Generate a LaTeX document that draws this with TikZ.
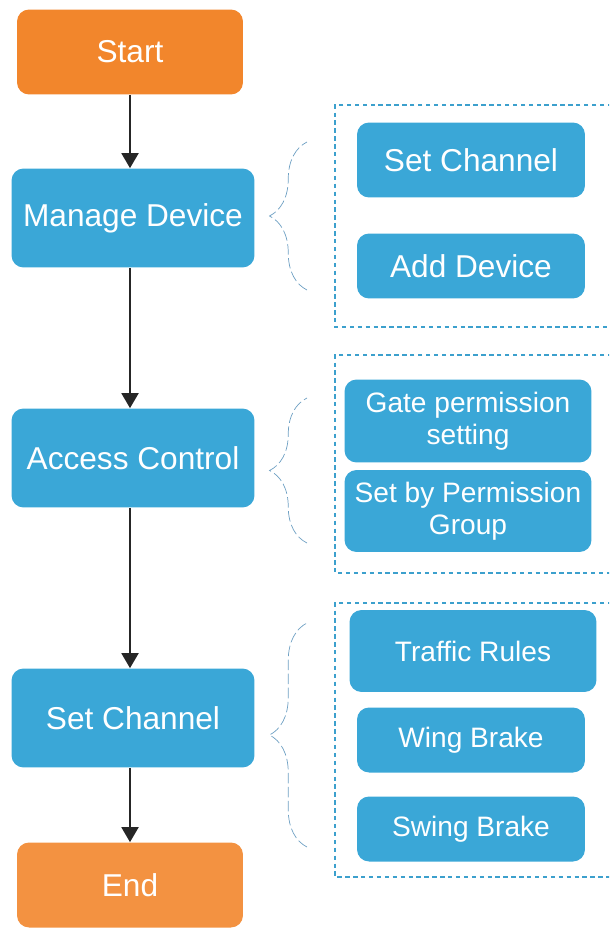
\documentclass[tikz,border=0pt]{standalone}
\usepackage{fontspec}
\setmainfont{Liberation Sans}
\definecolor{FlowOrange}{RGB}{242,134,44}
\definecolor{FlowBlue}{RGB}{58,167,215}
\definecolor{GroupBlue}{RGB}{60,160,205}
\definecolor{BraceBlue}{RGB}{110,160,195}
\usetikzlibrary{arrows.meta, decorations.pathreplacing}

\begin{document}
\begin{tikzpicture}[x=0.02cm, y=-0.02cm,
  term/.style={fill=FlowOrange, rounded corners=0.24cm, text=white, minimum width=4.52cm, minimum height=1.7cm, font=\fontsize{18}{20}\selectfont},
  stepbox/.style={fill=FlowBlue, rounded corners=0.24cm, text=white, minimum width=4.86cm, minimum height=1.98cm, font=\fontsize{18}{20}\selectfont},
  subbox/.style={fill=FlowBlue, rounded corners=0.24cm, text=white, align=center, font=\fontsize{16}{18}\selectfont},
  flow/.style={-{Triangle[length=0.3cm, width=0.34cm]}, line width=1.1pt, black!85},
  group/.style={GroupBlue, line width=1.3pt, dash pattern=on 2.5pt off 2pt},
  bracket/.style={BraceBlue, thin, dash pattern=on 6pt off 2pt, decorate, decoration={brace, amplitude=0.75cm}}
]
\clip (0,0) rectangle (609,929);

% Main flow
\node[term] (start) at (130,52) {Start};
\node[stepbox] (manage) at (133,218) {Manage Device};
\node[stepbox] (access) at (133,458) {Access Control};
\node[stepbox] (channel) at (133,718) {Set Channel};
\node[term, fill=FlowOrange!90!white] (end) at (130,885) {End};

\draw[flow] (start) -- (start |- manage.north);
\draw[flow] (start |- manage.south) -- (start |- access.north);
\draw[flow] (start |- access.south) -- (start |- channel.north);
\draw[flow] (start |- channel.south) -- (end);

% Sub steps
\node[subbox, minimum width=4.56cm, minimum height=1.5cm, font=\fontsize{18}{20}\selectfont] (setch) at (471,160) {Set Channel};
\node[subbox, minimum width=4.56cm, minimum height=1.3cm, font=\fontsize{18}{20}\selectfont] (adddev) at (471,266) {Add Device};
\node[subbox, minimum width=4.94cm, minimum height=1.66cm] (gate) at (468,421) {Gate permission\\setting};
\node[subbox, minimum width=4.94cm, minimum height=1.64cm] (pgroup) at (468,511) {Set by Permission\\Group};
\node[subbox, minimum width=4.94cm, minimum height=1.64cm] (traffic) at (473,651) {Traffic Rules};
\node[subbox, minimum width=4.56cm, minimum height=1.3cm] (wing) at (471,740) {Wing Brake};
\node[subbox, minimum width=4.56cm, minimum height=1.3cm] (swing) at (471,829) {Swing Brake};

% Dotted groups
\draw[group] (620,105) -- (335,105) -- (335,327) -- (620,327);
\draw[group] (620,355) -- (335,355) -- (335,573) -- (620,573);
\draw[group] (620,603) -- (335,603) -- (335,877) -- (620,877);

% Braces
\coordinate (b1s) at (307,290); \coordinate (b1e) at (307,142);
\coordinate (b2s) at (307,543); \coordinate (b2e) at (307,398);
\coordinate (b3s) at (307,847); \coordinate (b3e) at (307,623);
\draw[bracket] (b1s) -- (b1e);
\draw[bracket] (b2s) -- (b2e);
\draw[bracket] (b3s) -- (b3e);
\end{tikzpicture}
\end{document}
